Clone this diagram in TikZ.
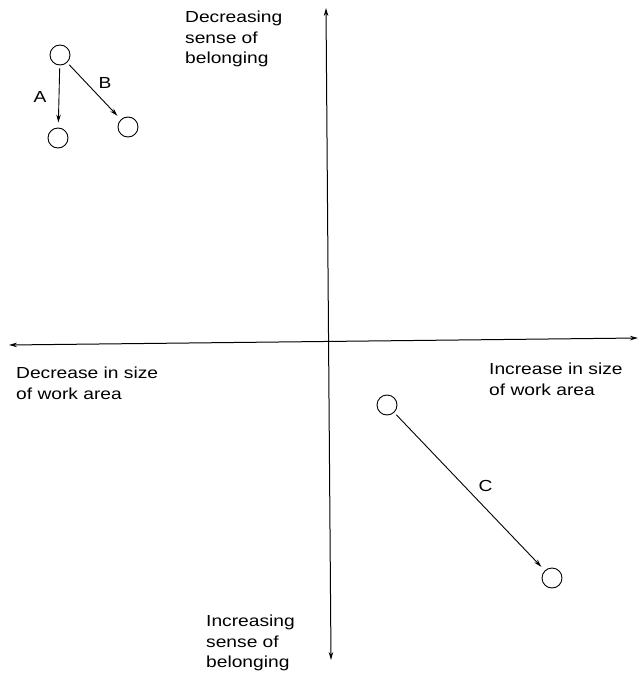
\documentclass[tikz,border=0pt]{standalone}
\usepackage{fontspec}
\setmainfont{Liberation Sans}[FakeStretch=1.2]
\usepackage{tikz}
\usetikzlibrary{arrows.meta,positioning}

\begin{document}
\begin{tikzpicture}[
    x=1pt, y=-1pt,
    font=\fontsize{16}{20.5}\selectfont,
    >={Stealth[length=8pt,width=4.5pt]},
    spot/.style={draw, circle, minimum size=20pt, inner sep=0pt, line width=0.9pt},
    link/.style={->, line width=0.9pt, shorten <=3pt, shorten >=5pt},
    axis/.style={<->, line width=1pt},
    lbl/.style={align=left, anchor=north west, inner sep=0pt}
  ]
  \useasboundingbox (0,0) rectangle (640,674);

  % Ejes
  \coordinate (top) at (326,8);
  \coordinate (bot) at (331,660);
  \coordinate (lft) at (9,345);
  \coordinate (rgt) at (638,338);
  \draw[axis] (top) -- (bot);
  \draw[axis] (lft) -- (rgt);

  % Etiquetas de los ejes
  \node[lbl] (dec) at (185,11) {Decreasing\\ sense of\\ belonging};
  \node[lbl] (inc) at (206,615) {Increasing\\ sense of\\ belonging};
  \node[lbl] (less) at (16,367) {Decrease in size\\ of work area};
  \node[lbl] (more) at (489,363) {Increase in size\\ of work area};

  % Cambios A y B
  \node[spot] (a0) at (60,55) {};
  \node[spot] (a1) at (58,138) {};
  \node[spot] (a2) at (128,127) {};
  \draw[link] (a0) -- node[midway, left=12pt, inner sep=0pt] {A} (a1);
  \draw[link] (a0) -- node[midway, xshift=11pt, yshift=8pt] {B} (a2);

  % Cambio C
  \node[spot] (c0) at (387,405) {};
  \node[spot] (c1) at (552,578) {};
  \draw[link] (c0) -- node[midway, xshift=16pt, yshift=6pt] {C} (c1);
\end{tikzpicture}
\end{document}
